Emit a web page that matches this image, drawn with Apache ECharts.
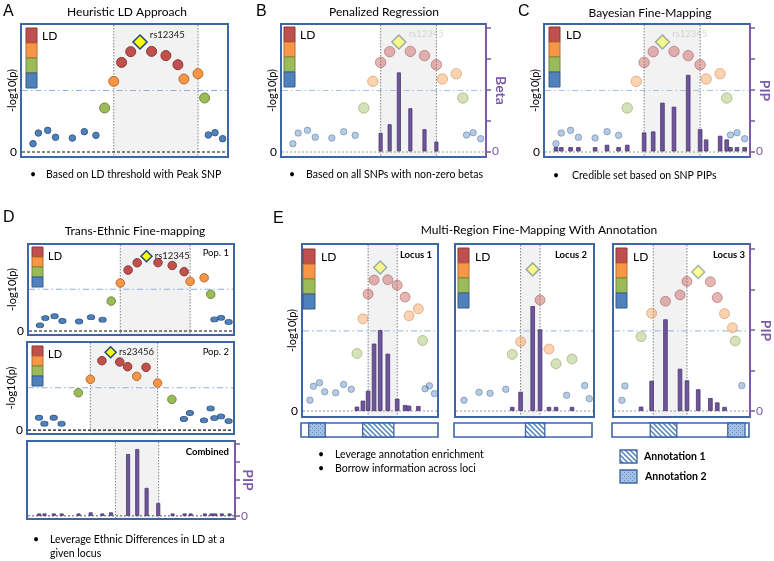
<!DOCTYPE html>
<html>
<head>
<meta charset="utf-8">
<script src="https://cdn.jsdelivr.net/npm/echarts@6/dist/echarts.min.js"></script>
<style>
html, body { margin: 0; background: #fff; }
#chart { width: 774px; height: 561px; }
</style>
</head>
<body>
<div id="chart"></div>
<script>
// SNP positions in the window (0-100), shared by A, B, C, D and locus 1
var snpPos = [5.8, 8.4, 12.9, 16.7, 24.8, 30.6, 36.2, 40.4, 44.8, 48.6, 53.0, 57.5, 63.1, 70.0, 75.8, 78.7, 85.5, 88.7, 90.5, 93.7, 97.4];
// population 1 association (-log10 p) and LD class with lead SNP (L)
var pop1LogP = [0.65, 1.48, 1.69, 1.15, 1.09, 1.59, 1.30, 3.44, 5.52, 7.00, 7.84, 8.59, 7.86, 7.53, 6.82, 5.70, 6.12, 4.22, 1.33, 1.51, 1.04];
var pop1LD = ['b', 'b', 'b', 'b', 'b', 'b', 'b', 'g', 'o', 'r', 'r', 'L', 'r', 'r', 'r', 'o', 'o', 'g', 'b', 'b', 'b'];
var pop2LogP = [1.40, 0.72, 1.40, 0.72, 4.24, 5.76, 7.88, 8.83, 7.73, 7.20, 6.10, 7.12, 5.34, 3.48, 1.25, 1.93, 1.10, 2.46, 1.36, 1.55, 1.02];
var pop2LD = ['b', 'b', 'b', 'b', 'g', 'o', 'r', 'L', 'r', 'r', 'o', 'r', 'o', 'g', 'b', 'b', 'b', 'b', 'b', 'b', 'b'];

var betaB = [0, 0, 0, 0, 0, 0, 0, 0, 0, 0.15, 0.22, 0.64, 0.35, 0.18, 0.08, 0, 0, 0, 0, 0, 0];
var pipC = [0.035, 0.035, 0.035, 0.035, 0.035, 0.054, 0.035, 0.054, 0, 0.154, 0.162, 0.395, 0.362, 0.62, 0.18, 0.097, 0.127, 0.097, 0.035, 0.035, 0.035];
var pipCombined = [0.035, 0.035, 0.035, 0.035, 0.035, 0.05, 0.035, 0.05, 0, 0.86, 0.93, 0.39, 0.18, 0.035, 0.035, 0.035, 0.035, 0.035, 0.035, 0.035, 0.035];
var pipLocus1 = [0, 0, 0, 0, 0, 0, 0, 0.027, 0.064, 0.125, 0.416, 0.50, 0.354, 0.076, 0.037, 0.033, 0.031, 0, 0, 0, 0];

var locus2Pos = [6.5, 17.3, 25.2, 36.5, 41.2, 47.2, 55.9, 61.2, 67.6, 72.7, 80.3, 84.2, 93.3, 96.6];
var locus2LogP = [0.64, 1.12, 1.06, 1.30, 3.39, 4.15, 8.48, 6.65, 3.71, 2.83, 0.94, 3.11, 1.52, 0.74];
var locus2LD = ['b', 'b', 'b', 'b', 'g', 'o', 'L', 'r', 'o', 'g', 'b', 'g', 'b', 'b'];
var pipLocus2 = [0, 0, 0, 0, 0.025, 0.119, 0.648, 0.504, 0.025, 0.025, 0, 0.025, 0, 0];

var locus3Pos = [6.5, 8.7, 20.5, 28.2, 38.3, 48.9, 54.0, 62.2, 71.1, 76.1, 81.4, 87.2, 89.2, 94.0];
var locus3LogP = [0.64, 1.50, 4.45, 5.85, 6.57, 6.95, 7.76, 8.32, 7.74, 6.79, 5.83, 4.99, 4.19, 1.52];
var locus3LD = ['b', 'b', 'g', 'o', 'r', 'r', 'r', 'L', 'r', 'r', 'o', 'o', 'g', 'b'];
var pipLocus3 = [0, 0, 0.027, 0.187, 0.566, 0.261, 0.189, 0.134, 0.080, 0.053, 0.025, 0, 0, 0];

// credible windows (start, end)
var shadeA = [44.8, 85.5];
var shadeBC = [48.6, 75.8];
var shadePop1 = [44.8, 78.7];
var shadePop2 = [30.6, 63.1];
var shadeCombined = [42.5, 63.3];
var shadeLocus1 = [48.6, 70.0];
var shadeLocus2 = [47.2, 61.2];
var shadeLocus3 = [29.4, 54.0];
var threshold = 4.8;

// annotation tracks: [start, end, annotation type]
var annotLocus1 = [[5.6, 17.7, 2], [45.0, 67.8, 1]];
var annotLocus2 = [[51.8, 65.8, 1]];
var annotLocus3 = [[27.9, 47.3, 1], [84.5, 97.1, 2]];

var pipTicks = [0, 0.25, 0.5, 0.75, 1];

var FONT = 'Lato';
var purple = '#7b5aa6';
var frameBlue = '#3e66a6';
var ldStyle = {
    r: { color: '#c0504d', border: '#8c3836' },
    o: { color: '#f79646', border: '#b66d31' },
    g: { color: '#9bbb59', border: '#71893f' },
    b: { color: '#4f81bd', border: '#385d8a' },
    L: { color: '#ffff00', border: '#1f497d' }
};

function makeHatch() {
    var c = document.createElement('canvas');
    c.width = 5; c.height = 5;
    var g = c.getContext('2d');
    g.fillStyle = '#fff'; g.fillRect(0, 0, 5, 5);
    g.strokeStyle = '#4f81bd'; g.lineWidth = 1.5;
    g.beginPath();
    g.moveTo(-1, -1); g.lineTo(6, 6);
    g.moveTo(-1, 4); g.lineTo(1, 6);
    g.moveTo(4, -1); g.lineTo(6, 1);
    g.stroke();
    return { image: c, repeat: 'repeat' };
}
function makeDots() {
    var c = document.createElement('canvas');
    c.width = 4; c.height = 4;
    var g = c.getContext('2d');
    g.fillStyle = '#a4c0e4'; g.fillRect(0, 0, 4, 4);
    g.fillStyle = '#5f8bc4';
    g.fillRect(0, 0, 1, 1); g.fillRect(2, 2, 1, 1);
    return { image: c, repeat: 'repeat' };
}
var hatch = makeHatch();
var dots = makeDots();

var panels = [
    { rect: [21, 24, 207, 133], yL: [-0.39, 10], leftName: 3.5, pos: snpPos, logp: pop1LogP, ld: pop1LD,
      lead: 'rs12345', labelColor: '#222', labelDy: -7, sizes: { small: 6.5, big: 10, lead: 14, alpha: 1 }, shade: shadeA, zero: 'black' },
    { rect: [281, 24, 205, 133], yL: [-0.39, 10], yR: [-0.045, 1.032], leftName: 3.5, rightName: 'Beta', rightGap: 8,
      pos: snpPos, logp: pop1LogP, ld: pop1LD, lead: 'rs12345', labelColor: '#aaa', labelDy: -8,
      sizes: { small: 6.5, big: 10.5, lead: 14, alpha: 0.42 }, shade: shadeBC, zero: 'gray', bars: betaB, barW: 4 },
    { rect: [544, 24, 206, 133], yL: [-0.39, 10], yR: [-0.045, 1.032], leftName: 3.5, rightName: 'PIP', rightGap: 8,
      pos: snpPos, logp: pop1LogP, ld: pop1LD, lead: 'rs12345', labelColor: '#aaa', labelDy: -8,
      sizes: { small: 6.5, big: 10.5, lead: 14, alpha: 0.42 }, shade: shadeBC, zero: 'gray', bars: pipC, barW: 4.5 },
    { rect: [28, 244, 206, 91], yL: [-0.46, 10], leftName: 10.5, pos: snpPos, logp: pop1LogP, ld: pop1LD,
      lead: 'rs12345', labelColor: '#222', labelDy: 0, sizes: { small: [7, 5], big: 8.5, lead: 11, alpha: 1 }, shade: shadePop1, zero: 'black' },
    { rect: [27, 342, 207, 92], yL: [-0.45, 10], leftName: 10.5, pos: snpPos, logp: pop2LogP, ld: pop2LD,
      lead: 'rs23456', labelColor: '#222', labelDy: 0, sizes: { small: [7, 5], big: 8.5, lead: 11, alpha: 1 }, shade: shadePop2, zero: 'black' },
    { rect: [27, 441, 208, 78], yL: [-0.42, 10], yR: [-0.042, 1.042], rightName: 'PIP', rightGap: 6, noThreshold: true,
      shade: shadeCombined, zero: 'dark', barPos: snpPos, bars: pipCombined, barW: 4 },
    { rect: [302, 244, 136, 173], yL: [-0.36, 10], yR: [-0.037, 1.031], hideRight: true, leftName: 4.5,
      pos: snpPos, logp: pop1LogP, ld: pop1LD, sizes: { small: 6.5, big: 10, lead: 13, alpha: 0.42 },
      shade: shadeLocus1, zero: 'gray', bars: pipLocus1, barW: 4.5 },
    { rect: [455, 244, 139, 173], yL: [-0.36, 10], yR: [-0.037, 1.031], hideLeft: true, hideRight: true,
      pos: locus2Pos, logp: locus2LogP, ld: locus2LD, sizes: { small: 6.5, big: 10, lead: 13, alpha: 0.42 },
      shade: shadeLocus2, zero: 'gray', bars: pipLocus2, barW: 4.5 },
    { rect: [613, 244, 138, 173], yL: [-0.36, 10], yR: [-0.037, 1.031], hideLeft: true, rightName: 'PIP', rightGap: 9,
      pos: locus3Pos, logp: locus3LogP, ld: locus3LD, sizes: { small: 6.5, big: 10, lead: 13, alpha: 0.42 },
      shade: shadeLocus3, zero: 'gray', bars: pipLocus3, barW: 4.5 }
];

var annotTracks = [
    { rect: [301, 423, 137, 14], data: annotLocus1 },
    { rect: [454, 423, 138, 14], data: annotLocus2 },
    { rect: [612, 423, 137, 14], data: annotLocus3 }
];

var zeroStyles = {
    black: { stroke: '#111', lineWidth: 1.2, lineDash: [3, 2] },
    gray: { stroke: '#9a9a9a', lineWidth: 1, lineDash: [2, 2] },
    dark: { stroke: '#555', lineWidth: 1, lineDash: [2, 2] }
};

function pointData(p) {
    return p.pos.map(function (x, i) {
        var k = p.ld[i], st = ldStyle[k], s = p.sizes;
        var item = {
            value: [x, p.logp[i]],
            symbol: k === 'L' ? 'diamond' : 'circle',
            symbolSize: k === 'b' ? s.small : (k === 'L' ? s.lead : s.big),
            itemStyle: { color: st.color, borderColor: st.border, borderWidth: k === 'L' ? 1.5 : 1, opacity: s.alpha }
        };
        if (k === 'L' && p.lead) {
            item.label = { show: true, formatter: p.lead, position: 'right', distance: 2, offset: [0, p.labelDy],
                fontSize: 9.5, fontFamily: FONT, color: p.labelColor };
        }
        return item;
    });
}

function frameSeries(p, gi, yi) {
    return {
        type: 'custom', xAxisIndex: gi, yAxisIndex: yi, z: 1, silent: true,
        data: [p.shade],
        renderItem: function (params, api) {
            var cs = params.coordSys;
            var xa = api.coord([api.value(0), 0])[0];
            var xb = api.coord([api.value(1), 0])[0];
            var y0 = api.coord([0, 0])[1];
            var dotted = { stroke: '#808080', lineWidth: 1, lineDash: [1.5, 1.5] };
            var kids = [
                { type: 'rect', shape: { x: xa, y: cs.y + 1, width: xb - xa, height: cs.height - 2 }, style: { fill: '#f2f2f2' } },
                { type: 'line', shape: { x1: xa, y1: cs.y + 1, x2: xa, y2: cs.y + cs.height - 1 }, style: dotted },
                { type: 'line', shape: { x1: xb, y1: cs.y + 1, x2: xb, y2: cs.y + cs.height - 1 }, style: dotted },
                { type: 'line', shape: { x1: cs.x + 1, y1: y0, x2: cs.x + cs.width - 1, y2: y0 }, style: zeroStyles[p.zero] }
            ];
            if (!p.noThreshold) {
                var yt = api.coord([0, threshold])[1];
                kids.push({ type: 'line', shape: { x1: cs.x + 1, y1: yt, x2: cs.x + cs.width - 1, y2: yt },
                    style: { stroke: p.sizes.alpha < 1 ? '#a9c2e4' : '#8eb0dc', lineWidth: 1.1, lineDash: [6, 3, 1.5, 3] } });
            }
            return { type: 'group', children: kids };
        }
    };
}

var option = {
    animation: false,
    grid: [], xAxis: [], yAxis: [], series: [],
    graphic: { elements: [] }
};

panels.forEach(function (p, gi) {
    option.grid.push({ left: p.rect[0], top: p.rect[1], width: p.rect[2], height: p.rect[3],
        show: true, borderColor: frameBlue, borderWidth: 2, backgroundColor: '#fff' });
    option.xAxis.push({ type: 'value', gridIndex: gi, min: 0, max: 100, show: false });

    var yl = option.yAxis.length;
    option.yAxis.push({
        type: 'value', gridIndex: gi, position: 'left', min: p.yL[0], max: p.yL[1],
        show: !(p.hideLeft || p.leftName === undefined),
        axisLine: { show: false }, axisTick: { show: false }, splitLine: { show: false },
        axisLabel: { customValues: [0], color: '#000', fontSize: 12, fontFamily: FONT, margin: 4 },
        name: '-log10(p)', nameLocation: 'middle', nameRotate: 90, nameGap: p.leftName || 3, nameMoveOverlap: false,
        nameTextStyle: { color: '#000', fontSize: 11, fontFamily: FONT }
    });

    var yr = null;
    if (p.yR) {
        yr = option.yAxis.length;
        option.yAxis.push({
            type: 'value', gridIndex: gi, position: 'right', min: p.yR[0], max: p.yR[1],
            show: !p.hideRight,
            axisLine: { show: true, lineStyle: { color: purple, width: 2 } },
            axisTick: { show: true, customValues: pipTicks, length: 5, lineStyle: { color: purple, width: 1.5 } },
            splitLine: { show: false },
            axisLabel: { customValues: [0], color: purple, fontSize: 12, fontFamily: FONT, margin: 6 },
            name: p.rightName, nameLocation: 'middle', nameRotate: -90, nameGap: p.rightGap || 8, nameMoveOverlap: false,
            nameTextStyle: { color: purple, fontSize: 14, fontWeight: 'bold', fontFamily: FONT }
        });
    }

    option.series.push(frameSeries(p, gi, yl));

    if (p.pos) {
        option.series.push({ type: 'scatter', xAxisIndex: gi, yAxisIndex: yl, z: 2, silent: true, data: pointData(p) });
    }
    if (p.bars) {
        var bpos = p.barPos || p.pos;
        var bd = [];
        p.bars.forEach(function (v, i) { if (v > 0) bd.push([bpos[i], v]); });
        option.series.push({ type: 'bar', xAxisIndex: gi, yAxisIndex: yr, z: 3, silent: true, barWidth: p.barW,
            itemStyle: { color: '#6e559c', borderColor: '#4a3670', borderWidth: 0.8 }, data: bd });
    }
});

annotTracks.forEach(function (t) {
    var gi = option.grid.length;
    option.grid.push({ left: t.rect[0], top: t.rect[1], width: t.rect[2], height: t.rect[3],
        show: true, borderColor: frameBlue, borderWidth: 1.6, backgroundColor: '#fff' });
    option.xAxis.push({ type: 'value', gridIndex: gi, min: 0, max: 100, show: false });
    var yi = option.yAxis.length;
    option.yAxis.push({ type: 'value', gridIndex: gi, min: 0, max: 1, show: false });
    option.series.push({
        type: 'custom', xAxisIndex: gi, yAxisIndex: yi, silent: true, data: t.data,
        renderItem: function (params, api) {
            var a = api.coord([api.value(0), 1]);
            var b = api.coord([api.value(1), 0]);
            return { type: 'rect', shape: { x: a[0], y: a[1], width: b[0] - a[0], height: b[1] - a[1] },
                style: { fill: api.value(2) === 1 ? hatch : dots, stroke: frameBlue, lineWidth: 1.3 } };
        }
    });
});

// texts and legends
var G = option.graphic.elements;
function txt(x, y, s, font, opts) {
    opts = opts || {};
    G.push({ type: 'text', x: x, y: y, silent: true,
        style: { text: s, font: font, fill: opts.fill || '#000', align: opts.align || 'left', verticalAlign: 'middle' } });
}
function ldLegend(x, y, w, h, tx, ty, fs) {
    ['r', 'o', 'g', 'b'].forEach(function (k, i) {
        G.push({ type: 'rect', silent: true, shape: { x: x, y: y + i * h, width: w, height: h },
            style: { fill: ldStyle[k].color, stroke: ldStyle[k].border, lineWidth: 1 } });
    });
    txt(tx, ty, 'LD', fs + 'px ' + FONT);
}

txt(3, 12, 'A', '16px "Liberation Sans"');
txt(256, 12, 'B', '16px "Liberation Sans"');
txt(518, 12, 'C', '16px "Liberation Sans"');
txt(3, 218, 'D', '16px "Liberation Sans"');
txt(273, 219, 'E', '16px "Liberation Sans"');

var titleFont = '12px ' + FONT;
txt(127, 12, 'Heuristic LD Approach', titleFont, { align: 'center' });
txt(384, 12, 'Penalized Regression', titleFont, { align: 'center' });
txt(650, 13, 'Bayesian Fine-Mapping', titleFont, { align: 'center' });
txt(135, 231, 'Trans-Ethnic Fine-mapping', titleFont, { align: 'center' });
txt(539, 230, 'Multi-Region Fine-Mapping With Annotation', titleFont, { align: 'center' });

var bodyFont = '10.5px ' + FONT;
txt(30, 175, '•', bodyFont); txt(46, 175, 'Based on LD threshold with Peak SNP', bodyFont);
txt(289, 175, '•', bodyFont); txt(306, 175, 'Based on all SNPs with non-zero betas', bodyFont);
txt(553, 176, '•', bodyFont); txt(572, 176, 'Credible set based on SNP PIPs', bodyFont);
txt(33, 540, '•', bodyFont); txt(50, 540, 'Leverage Ethnic Differences in LD at a', bodyFont);
txt(50, 554, 'given locus', bodyFont);
txt(318, 455, '•', bodyFont); txt(335, 455, 'Leverage annotation enrichment', bodyFont);
txt(318, 469, '•', bodyFont); txt(335, 469, 'Borrow information across loci', bodyFont);

ldLegend(26, 28, 11, 15, 42, 36, 12);
ldLegend(284, 27, 11, 15, 300, 35, 12);
ldLegend(549, 27, 11, 15, 566, 35, 12);
ldLegend(32, 247, 11, 10, 48, 256, 11);
ldLegend(32, 346, 11, 10, 48, 354, 11);
ldLegend(303, 249, 12, 15, 321, 257, 12);
ldLegend(458, 248, 11, 15, 475, 257, 12);
ldLegend(616, 248, 11, 15, 633, 257, 12);

var smallFont = '9.5px ' + FONT;
var smallBold = 'bold 9.5px ' + FONT;
txt(229, 253, 'Pop. 1', smallFont, { align: 'right' });
txt(229, 352, 'Pop. 2', smallFont, { align: 'right' });
txt(229, 452, 'Combined', smallBold, { align: 'right' });
txt(432, 255, 'Locus 1', smallBold, { align: 'right' });
txt(587, 255, 'Locus 2', smallBold, { align: 'right' });
txt(745, 255, 'Locus 3', smallBold, { align: 'right' });

G.push({ type: 'rect', silent: true, shape: { x: 620, y: 450, width: 17, height: 13 }, style: { fill: hatch, stroke: frameBlue, lineWidth: 1.3 } });
G.push({ type: 'rect', silent: true, shape: { x: 620, y: 470, width: 17, height: 13 }, style: { fill: dots, stroke: frameBlue, lineWidth: 1.3 } });
txt(644, 457, 'Annotation 1', 'bold 10.5px ' + FONT);
txt(645, 477, 'Annotation 2', 'bold 10.5px ' + FONT);

var chart = echarts.init(document.getElementById('chart'));
chart.setOption(option);
</script>
</body>
</html>
